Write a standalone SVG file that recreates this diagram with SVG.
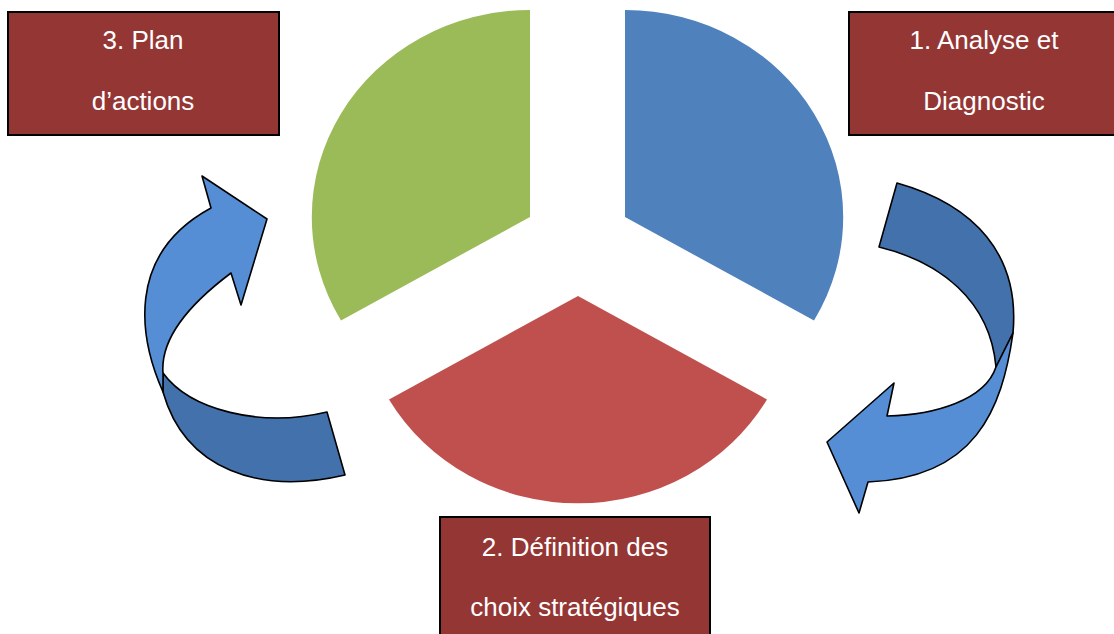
<svg xmlns="http://www.w3.org/2000/svg" width="1114" height="634" viewBox="0 0 1114 634">
  <style>
    .box { fill: #943634; stroke: #000; stroke-width: 2; }
    .lbl { font-family: "Liberation Sans", Arial, sans-serif; font-size: 26px; fill: #fff; text-anchor: middle; }
    .band-dark { fill: #4271AB; stroke: #000; stroke-width: 1.6; stroke-linejoin: round; }
    .band-light { fill: #558ED5; stroke: #000; stroke-width: 1.6; stroke-linejoin: round; }
  </style>

  <!-- exploded three-part pie -->
  <g id="pie">
    <path id="seg-blue" fill="#4F81BD" d="M 625,217 L 625,10 A 218,207 0 0 1 814,320.5 Z"/>
    <path id="seg-red" fill="#C0504D" d="M 578,296 L 767,399.5 A 218,207 0 0 1 389,399.5 Z"/>
    <path id="seg-green" fill="#9BBB59" d="M 530,217 L 341,320.5 A 218,207 0 0 1 530,10 Z"/>
  </g>

  <!-- curved cycle arrows -->
  <g id="connectors">
    <g id="arrow-right">
      <path class="band-dark" d="M 897,183 C 975,205 1020,255 1013,333 L 996,367 C 990,300 940,262 879,247 Z"/>
      <path class="band-light" d="M 1013,333 C 1002,410 975,478 868,482 L 859,513 L 827,442 L 894,383 L 887,416 C 935,415 985,400 996,367 Z"/>
    </g>
    <g id="arrow-left">
      <path class="band-dark" d="M 163,373 C 190,410 260,428 327,412 L 345,475 C 260,495 185,470 163,392 Z"/>
      <path class="band-light" d="M 211,208 L 202,176 L 267,219 L 241,305 L 231,273 C 195,300 160,335 163,373 L 163,392 C 140,340 124,255 211,208 Z"/>
    </g>
  </g>

  <g id="node-analyse">
    <rect class="box" x="849" y="12" width="275" height="123"/>
    <text class="lbl" x="984" y="49">1. Analyse et</text>
    <text class="lbl" x="984" y="110">Diagnostic</text>
  </g>

  <g id="node-definition">
    <rect class="box" x="440" y="517" width="270" height="130"/>
    <text class="lbl" x="575" y="556">2. Définition des</text>
    <text class="lbl" x="575" y="616">choix stratégiques</text>
  </g>

  <g id="node-plan">
    <rect class="box" x="8" y="12" width="271" height="123"/>
    <text class="lbl" x="143" y="49">3. Plan</text>
    <text class="lbl" x="143" y="110">d’actions</text>
  </g>
</svg>
